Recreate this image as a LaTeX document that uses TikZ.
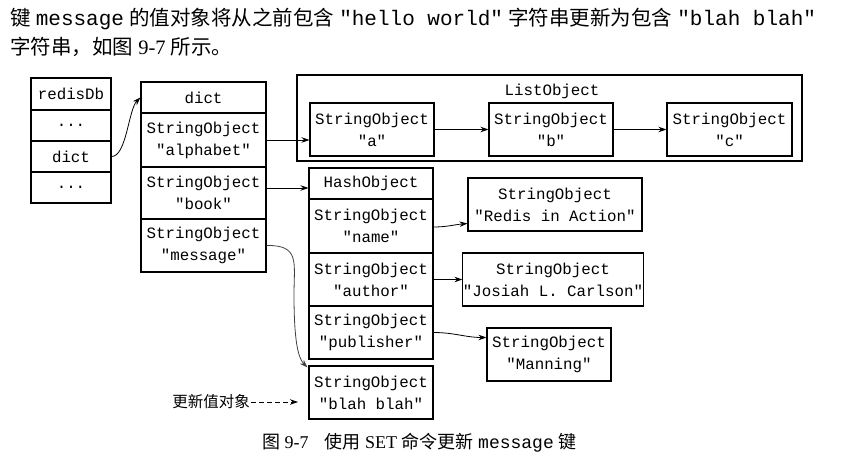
\documentclass[tikz,border=0pt]{standalone}
\usepackage{fontspec}
\setmainfont{Liberation Serif}
\setmonofont{Liberation Mono}
\newfontfamily\cjk{Noto Sans CJK SC}
\usetikzlibrary{arrows.meta}
\newcommand\hmono[1]{{\fontsize{21}{24}\selectfont\ttfamily #1}}
\newcommand\cmono[1]{{\fontsize{18}{22}\selectfont\ttfamily #1}}
\begin{document}
\begin{tikzpicture}[x=1pt,y=-1pt,
  cell/.style={draw, line width=1.1pt, inner sep=0pt, font=\fontsize{15.8}{22}\selectfont\ttfamily, align=center},
  arr/.style={-{Stealth[length=8pt,width=5.5pt]}, line width=0.8pt},
]
\useasboundingbox (0,0) rectangle (842,457);

% header text
\node[anchor=base west, inner sep=0pt, font=\fontsize{20.5}{24}\selectfont] (hd1) at (10,26)
  {{\cjk 键} \hmono{message} {\cjk 的值对象将从之前包含} \hmono{"hello world"} {\cjk 字符串更新为包含} \hmono{"blah blah"}};
\node[anchor=base west, inner sep=0pt, font=\fontsize{20.5}{24}\selectfont] (hd2) at (10,55)
  {{\cjk 字符串，如图} 9-7 {\cjk 所示。}};

% redisDb column
\node[cell, minimum width=80pt, minimum height=32pt] (db1) at (71,94) {redisDb};
\node[cell, minimum width=80pt, minimum height=31pt] (db2) at (71,125.5) {...};
\node[cell, minimum width=80pt, minimum height=31pt] (db3) at (71,156.5) {dict};
\node[cell, minimum width=80pt, minimum height=31pt] (db4) at (71,187.5) {...};

% dict column
\node[cell, minimum width=125pt, minimum height=31pt] (d1) at (203.5,97.5) {dict};
\node[cell, minimum width=125pt, minimum height=54pt] (d2) at (203.5,140) {StringObject\\"alphabet"};
\node[cell, minimum width=125pt, minimum height=52pt] (d3) at (203.5,193) {StringObject\\"book"};
\node[cell, minimum width=125pt, minimum height=53pt] (d4) at (203.5,245.5) {StringObject\\"message"};

% ListObject
\node[cell, minimum width=505pt, minimum height=86pt] (lo) at (549.5,118) {};
\node[font=\fontsize{15.8}{22}\selectfont\ttfamily, inner sep=0pt] (lol) at (552,91) {ListObject};
\node[cell, minimum width=124pt, minimum height=53pt] (la) at (372,129.5) {StringObject\\"a"};
\node[cell, minimum width=124pt, minimum height=53pt] (lb) at (551,129.5) {StringObject\\"b"};
\node[cell, minimum width=125pt, minimum height=53pt] (lc) at (729.5,129.5) {StringObject\\"c"};

% HashObject column
\node[cell, minimum width=124pt, minimum height=31pt] (h1) at (371,183.5) {HashObject};
\node[cell, minimum width=124pt, minimum height=54pt] (h2) at (371,226) {StringObject\\"name"};
\node[cell, minimum width=124pt, minimum height=53pt] (h3) at (371,279.5) {StringObject\\"author"};
\node[cell, minimum width=124pt, minimum height=53pt] (h4) at (371,332.5) {StringObject\\"publisher"};
\node[cell, minimum width=124pt, minimum height=53pt] (bl) at (371,392.5) {StringObject\\"blah blah"};

% values
\node[cell, minimum width=174pt, minimum height=53pt] (rd) at (555,204.5) {StringObject\\"Redis in Action"};
\node[cell, minimum width=178pt, minimum height=53pt] (js) at (553,279.5) {StringObject\\"Josiah L. Carlson"};
\node[cell, minimum width=124pt, minimum height=53pt] (mn) at (549,354.5) {StringObject\\"Manning"};

% connectors
\draw[arr] (db3.east) .. controls +(15,0) and +(-12,12) .. (d1.west);
\draw[arr] (d2.east) -- (d2.east -| la.west);
\draw[arr] (la.east) -- (lb.west);
\draw[arr] (lb.east) -- (lc.west);
\draw[arr] ([yshift=5pt]d3.east) -- ([yshift=5pt]d3.east -| h1.west);
\draw[arr] ([yshift=-1pt]h2.east) to[out=0,in=185] ([yshift=-19pt]rd.west);
\draw[arr] (h3.east) -- (js.west);
\draw[arr] (h4.east) to[out=0,in=180] ([yshift=17pt]mn.west);
\draw[arr, draw=black!75] (d4.east) .. controls (300,245) and (294,262) .. (294,295)
   .. controls (294,340) and (298,358) .. ([xshift=-1pt,yshift=-2pt]bl.north west);

% update label
\node[font=\cjk\fontsize{15.5}{18}\selectfont, inner sep=1pt] (lab) at (211,402) {更新值对象};
\coordinate (dend) at (298,402);
\draw[arr, dash pattern=on 5pt off 3pt] (lab.east) -- (dend);

% caption
\node[anchor=base west, inner sep=0pt, font=\fontsize{18}{22}\selectfont] (cap) at (262,448)
  {{\cjk 图} 9-7\hspace{16pt}{\cjk 使用} SET {\cjk 命令更新} \cmono{message} {\cjk 键}};
\end{tikzpicture}
\end{document}
